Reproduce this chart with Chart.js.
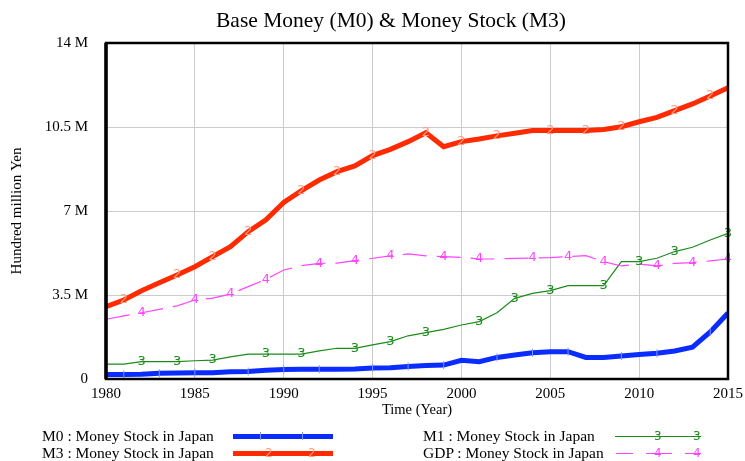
<!DOCTYPE html>
<html>
<head>
<meta charset="utf-8">
<script src="https://cdn.jsdelivr.net/npm/chart.js@4.4.0/dist/chart.umd.min.js"></script>
<style>
  body { margin: 0; background: #fff; font-family: "Liberation Serif", "Times New Roman", serif; }
  #wrap { position: relative; width: 745px; height: 461px; overflow: hidden; }
  #chart { position: absolute; left: 0; top: 0; }
  .title { position: absolute; left: 0; top: 7px; width: 782px; text-align: center; font-size: 21.5px; line-height: 26px; color: #000; }
  .leg { position: absolute; font-size: 15.5px; line-height: 18px; color: #000; white-space: nowrap; }
  .sample { position: absolute; height: 0; }
  .mk { position: absolute; font-family: "DejaVu Sans", sans-serif; font-size: 12px; line-height: 12px; }
</style>
</head>
<body>
<div id="wrap">
  <canvas id="chart" width="745" height="461"></canvas>
  <div class="title">Base Money (M0) &amp; Money Stock (M3)</div>

  <div class="leg" style="left:42px;top:427px;">M0 : Money Stock in Japan</div>
  <div class="sample" style="left:233px;top:434px;width:100px;border-top:5px solid #0a2cff;"></div>
  <div class="sample" style="left:260px;top:432px;width:1px;height:8px;background:#7f95ff;"></div>
  <div class="sample" style="left:302px;top:432px;width:1px;height:8px;background:#7f95ff;"></div>

  <div class="leg" style="left:42px;top:444px;">M3 : Money Stock in Japan</div>
  <div class="sample" style="left:233px;top:451px;width:100px;border-top:5px solid #ff2a00;"></div>
  <div class="mk" style="left:265px;top:447px;color:#ff9a80;">2</div>
  <div class="mk" style="left:308px;top:447px;color:#ff9a80;">2</div>

  <div class="leg" style="left:423px;top:427px;">M1 : Money Stock in Japan</div>
  <div class="sample" style="left:615px;top:436px;width:86px;border-top:1px solid #1a8c1a;"></div>
  <div class="mk" style="left:654px;top:430px;color:#1a8c1a;">3</div>
  <div class="mk" style="left:693px;top:430px;color:#1a8c1a;">3</div>

  <div class="leg" style="left:423px;top:444px;">GDP : Money Stock in Japan</div>
  <div class="sample" style="left:616px;top:453px;width:17px;border-top:1px solid #ff44ff;"></div>
  <div class="sample" style="left:646px;top:453px;width:26px;border-top:1px solid #ff44ff;"></div>
  <div class="sample" style="left:685px;top:453px;width:16px;border-top:1px solid #ff44ff;"></div>
  <div class="mk" style="left:654px;top:447px;color:#ff44ff;">4</div>
  <div class="mk" style="left:693px;top:447px;color:#ff44ff;">4</div>
</div>

<script>
// values in millions of "hundred million Yen"
const years = [1980, 1981, 1982, 1983, 1984, 1985, 1986, 1987, 1988, 1989,
  1990, 1991, 1992, 1993, 1994, 1995, 1996, 1997, 1998, 1999,
  2000, 2001, 2002, 2003, 2004, 2005, 2006, 2007, 2008, 2009,
  2010, 2011, 2012, 2013, 2014, 2015];

const m0 = [0.19, 0.19, 0.20, 0.24, 0.25, 0.26, 0.26, 0.30, 0.31, 0.36,
  0.40, 0.41, 0.41, 0.41, 0.42, 0.46, 0.47, 0.52, 0.56, 0.58,
  0.78, 0.72, 0.90, 1.00, 1.09, 1.14, 1.14, 0.90, 0.90, 0.96,
  1.02, 1.07, 1.17, 1.33, 1.96, 2.75];

const m3 = [3.01, 3.29, 3.68, 4.01, 4.33, 4.68, 5.10, 5.51, 6.14, 6.63,
  7.36, 7.85, 8.29, 8.64, 8.88, 9.31, 9.57, 9.89, 10.26, 9.68,
  9.89, 10.00, 10.13, 10.24, 10.35, 10.35, 10.35, 10.35, 10.40, 10.51,
  10.72, 10.90, 11.18, 11.46, 11.79, 12.14];

const m1 = [0.62, 0.62, 0.72, 0.72, 0.72, 0.76, 0.79, 0.92, 1.04, 1.04,
  1.04, 1.04, 1.17, 1.28, 1.28, 1.42, 1.56, 1.80, 1.93, 2.07,
  2.25, 2.39, 2.76, 3.36, 3.57, 3.68, 3.89, 3.89, 3.89, 4.89,
  4.89, 5.03, 5.31, 5.49, 5.79, 6.07];

const gdp = [2.49, 2.63, 2.76, 2.90, 3.05, 3.29, 3.37, 3.54, 3.85, 4.15,
  4.54, 4.72, 4.82, 4.83, 4.93, 5.03, 5.13, 5.21, 5.13, 5.10,
  5.07, 5.00, 5.00, 5.03, 5.04, 5.06, 5.10, 5.14, 4.89, 4.71,
  4.79, 4.71, 4.82, 4.85, 4.92, 5.00];

// years where the series number is drawn on the line
const m0Marks = [1981, 1983, 1985, 1988, 1990, 1992, 1995, 1997, 1999, 2002, 2004, 2006, 2009, 2011, 2014];
const m3Marks = [1981, 1984, 1986, 1988, 1991, 1993, 1995, 1998, 2000, 2002, 2005, 2007, 2009, 2012, 2014];
const m1Marks = [1982, 1984, 1986, 1989, 1991, 1994, 1996, 1998, 2001, 2003, 2005, 2008, 2010, 2012, 2015];
const gdpMarks = [1982, 1985, 1987, 1989, 1992, 1994, 1996, 1999, 2001, 2004, 2006, 2008, 2011, 2013, 2015];

const yTicks = [0, 3.5, 7, 10.5, 14];

const pts = (vals) => years.map((yr, i) => ({ x: yr, y: vals[i] }));

// number glyphs on the lines, Vensim style
const markerPlugin = {
  id: 'markers',
  afterDatasetsDraw(chart) {
    const ctx = chart.ctx;
    ctx.save();
    ctx.textAlign = 'center';
    ctx.textBaseline = 'middle';
    chart.data.datasets.forEach((ds, di) => {
      const meta = chart.getDatasetMeta(di);
      ds.marks.forEach(yr => {
        const el = meta.data[years.indexOf(yr)];
        if (!el) return;
        if (ds.glyph === '1') {
          ctx.strokeStyle = ds.markColor;
          ctx.lineWidth = 1;
          ctx.beginPath();
          ctx.moveTo(el.x, el.y - 4);
          ctx.lineTo(el.x, el.y + 4);
          ctx.stroke();
        } else {
          ctx.fillStyle = ds.markColor;
          ctx.font = '13px "DejaVu Sans", sans-serif';
          ctx.fillText(ds.glyph, el.x, el.y);
        }
      });
    });
    ctx.restore();
  }
};

// black frame round the plot
const framePlugin = {
  id: 'frame',
  afterDraw(chart) {
    const { left, right, top, bottom } = chart.chartArea;
    const ctx = chart.ctx;
    ctx.save();
    ctx.strokeStyle = '#000';
    ctx.lineWidth = 2.5;
    ctx.strokeRect(left, top, right - left, bottom - top);
    ctx.lineWidth = 3.5;
    ctx.beginPath();
    ctx.moveTo(left, top);
    ctx.lineTo(left, bottom);
    ctx.stroke();
    ctx.restore();
  }
};

new Chart(document.getElementById('chart'), {
  type: 'line',
  data: {
    datasets: [
      { label: 'GDP : Money Stock in Japan', data: pts(gdp), borderColor: '#ff44ff', borderWidth: 1.2,
        borderDash: [24, 10], pointRadius: 0, tension: 0, glyph: '4', markColor: '#ff44ff', marks: gdpMarks },
      { label: 'M1 : Money Stock in Japan', data: pts(m1), borderColor: '#1a8c1a', borderWidth: 1.2,
        pointRadius: 0, tension: 0, glyph: '3', markColor: '#1a8c1a', marks: m1Marks },
      { label: 'M3 : Money Stock in Japan', data: pts(m3), borderColor: '#ff2a00', borderWidth: 5,
        pointRadius: 0, tension: 0, glyph: '2', markColor: '#ff9a80', marks: m3Marks },
      { label: 'M0 : Money Stock in Japan', data: pts(m0), borderColor: '#0a2cff', borderWidth: 5,
        pointRadius: 0, tension: 0, glyph: '1', markColor: '#7f95ff', marks: m0Marks }
    ]
  },
  options: {
    responsive: false,
    animation: false,
    layout: { padding: { top: 43, right: 17, bottom: 40, left: 0 } },
    plugins: { legend: { display: false }, tooltip: { enabled: false } },
    scales: {
      x: {
        type: 'linear',
        min: 1980,
        max: 2015,
        afterFit: (s) => { s.height = 42; s.paddingLeft = 0; s.paddingRight = 0; },
        grid: { color: '#cccccc', drawTicks: false },
        border: { display: false },
        ticks: {
          stepSize: 5,
          padding: 6,
          maxRotation: 0,
          autoSkip: false,
          color: '#000',
          font: { family: '"Liberation Serif", serif', size: 15 },
          callback: (v) => String(v)
        },
        title: {
          display: true,
          text: 'Time (Year)',
          color: '#000',
          padding: { top: 0, bottom: 2 },
          font: { family: '"Liberation Serif", serif', size: 14.5 }
        }
      },
      y: {
        min: 0,
        max: 14,
        afterFit: (s) => { s.width = 106; },
        afterBuildTicks: (s) => { s.ticks = yTicks.map(v => ({ value: v })); },
        grid: { color: '#cccccc', drawTicks: false },
        border: { display: false },
        ticks: {
          padding: 18,
          color: '#000',
          font: { family: '"Liberation Serif", serif', size: 15 },
          callback: (v) => v === 0 ? '0' : v + ' M'
        },
        title: {
          display: true,
          text: 'Hundred million Yen',
          color: '#000',
          padding: { top: 8, bottom: 0 },
          font: { family: '"Liberation Serif", serif', size: 15 }
        }
      }
    }
  },
  plugins: [markerPlugin, framePlugin]
});
</script>
</body>
</html>
